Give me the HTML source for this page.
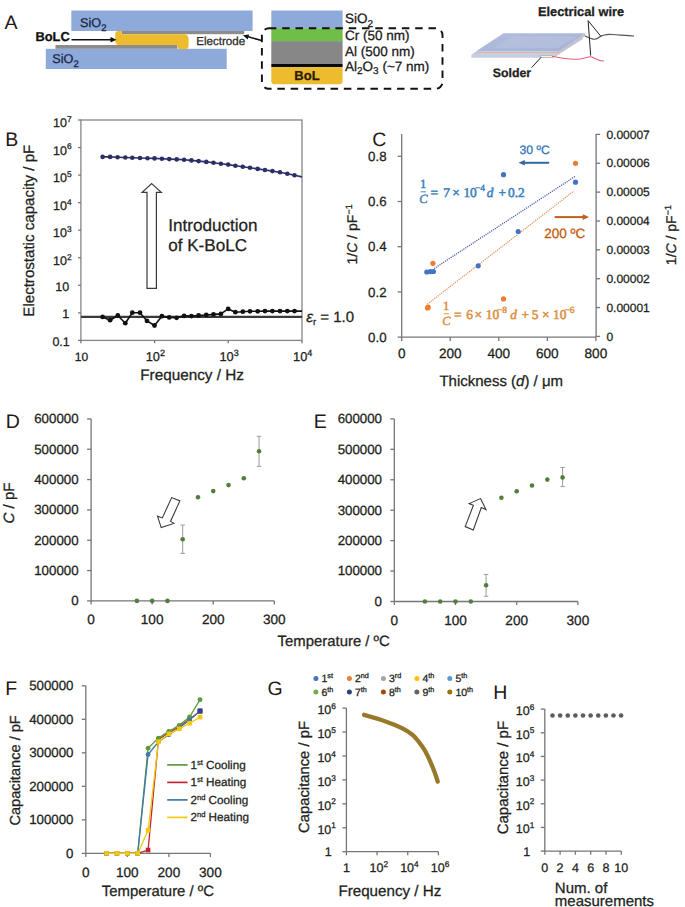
<!DOCTYPE html>
<html><head><meta charset="utf-8"><title>Figure</title>
<style>html,body{margin:0;padding:0;background:#fff;} body{width:685px;height:907px;overflow:hidden;} svg{display:block;} text{stroke-width:0.28px;text-rendering:geometricPrecision;} text.pl{stroke-width:0;}</style>
</head><body>
<svg width="685" height="907" viewBox="0 0 685 907" font-family='"Liberation Sans", sans-serif'>
<rect width="685" height="907" fill="#fff"/>
<text x="4.60" y="28.90" font-size="19.5" text-anchor="start" font-weight="normal" font-style="normal" fill="#231815" font-family='"Liberation Sans", sans-serif' class="pl" stroke="none">A</text>
<rect x="71.30" y="10.50" width="181.30" height="20.50" fill="#8eaadb" />
<rect x="45.80" y="48.80" width="180.90" height="20.20" fill="#8eaadb" />
<rect x="121.90" y="31.00" width="122.30" height="3.20" fill="#8c8c8c" />
<rect x="55.50" y="45.00" width="121.90" height="3.80" fill="#8c8c8c" />
<path d="M118.5,31 L121.8,31 L121.8,34.2 L184,34.2 Q188.6,34.2 188.6,39 L188.6,45.5 Q188.6,49.3 184.6,49.3 L180.5,49.3 Q177.6,49.3 177.6,46.5 L177.6,45 L118.8,45 Q115.2,45 115.2,41.3 L115.2,34.6 Q115.2,31 118.5,31 Z" fill="#ecbc2e"/>
<text stroke="#1c2744" x="80.00" y="27.00" font-size="12.7" text-anchor="start" fill="#1c2744" font-family='"Liberation Sans", sans-serif'>SiO<tspan font-size="9.50" dy="3.60">2</tspan></text>
<text stroke="#1c2744" x="52.30" y="63.00" font-size="12.7" text-anchor="start" fill="#1c2744" font-family='"Liberation Sans", sans-serif'>SiO<tspan font-size="9.50" dy="3.60">2</tspan></text>
<text stroke="#111" x="35.40" y="41.40" font-size="12.9" text-anchor="start" font-weight="bold" font-style="normal" fill="#111" font-family='"Liberation Sans", sans-serif' >BoLC</text>
<line x1="71.50" y1="39.70" x2="112.00" y2="39.70" stroke="#111" stroke-width="1.6" />
<polygon points="116.50,39.70 110.50,37.00 110.50,42.40" fill="#111" stroke="none" stroke-width="1" />
<text stroke="#2a2a2a" x="196.20" y="45.40" font-size="11.6" text-anchor="start" font-weight="normal" font-style="normal" fill="#2a2a2a" font-family='"Liberation Sans", sans-serif' >Electrode</text>
<line x1="261.50" y1="40.60" x2="246.50" y2="36.30" stroke="#111" stroke-width="1.6" />
<polygon points="243.00,35.30 249.20,34.60 247.60,39.60" fill="#111" stroke="none" stroke-width="1" />
<rect x="271.30" y="10.50" width="71.30" height="17.80" fill="#8eaadb" />
<rect x="271.30" y="28.30" width="71.30" height="12.80" fill="#6fbe47" />
<rect x="271.30" y="41.10" width="71.30" height="22.90" fill="#878787" />
<rect x="271.30" y="64.00" width="71.30" height="3.20" fill="#0a0a0a" />
<path d="M271.3,67.2 L342.6,67.2 L342.6,81 Q342.6,84.2 339.4,84.2 L274.5,84.2 Q271.3,84.2 271.3,81 Z" fill="#ecbc2e"/>
<text stroke="#2a1d05" x="307.00" y="80.40" font-size="13" text-anchor="middle" font-weight="bold" font-style="normal" fill="#2a1d05" font-family='"Liberation Sans", sans-serif' >BoL</text>
<rect x="261.9" y="28.2" width="180.6" height="60.6" rx="7" ry="7" fill="none" stroke="#111" stroke-width="1.9" stroke-dasharray="7.5 5.8"/>
<text stroke="#1a1a1a" x="345.00" y="23.20" font-size="13.5" text-anchor="start" fill="#1a1a1a" font-family='"Liberation Sans", sans-serif'>SiO<tspan font-size="10.00" dy="3.80">2</tspan></text>
<text stroke="#1a1a1a" x="345.00" y="40.30" font-size="13.5" text-anchor="start" font-weight="normal" font-style="normal" fill="#1a1a1a" font-family='"Liberation Sans", sans-serif' >Cr (50 nm)</text>
<text stroke="#1a1a1a" x="345.00" y="55.80" font-size="13.5" text-anchor="start" font-weight="normal" font-style="normal" fill="#1a1a1a" font-family='"Liberation Sans", sans-serif' >Al (500 nm)</text>
<text stroke="#1a1a1a" x="345" y="70.6" font-size="13.5" fill="#1a1a1a" font-family='"Liberation Sans", sans-serif'>Al<tspan font-size="10" dy="3.5">2</tspan><tspan dy="-3.5">O</tspan><tspan font-size="10" dy="3.5">3</tspan><tspan dy="-3.5"> (~7 nm)</tspan></text>
<defs><linearGradient id="gpl" x1="0" y1="0" x2="1" y2="1"><stop offset="0" stop-color="#b2bedc"/><stop offset="1" stop-color="#a3b1d6"/></linearGradient></defs>
<polygon points="500.50,36.30 582.50,36.30 553.50,54.80 471.40,54.80" fill="#b7c1dc" stroke="none" stroke-width="1" />
<polygon points="471.40,54.80 553.50,54.80 553.50,57.70 471.40,57.70" fill="#c6cddf" stroke="none" stroke-width="1" />
<polygon points="553.50,54.80 582.50,36.30 582.50,39.20 553.50,57.70" fill="#c4c8d4" stroke="none" stroke-width="1" />
<polygon points="503.50,33.20 585.50,33.20 558.00,51.30 476.10,51.30" fill="url(#gpl)" stroke="none" stroke-width="1" />
<polygon points="512.00,36.50 576.00,36.50 558.00,48.30 494.00,48.30" fill="#b9c4e0" stroke="none" stroke-width="1" opacity="0.55"/>
<polygon points="476.10,51.30 558.00,51.30 558.00,53.80 476.10,53.80" fill="#d3d5df" stroke="none" stroke-width="1" />
<polygon points="558.00,51.30 585.50,33.20 585.50,35.70 558.00,53.80" fill="#bfc2cc" stroke="none" stroke-width="1" />
<line x1="476.10" y1="52.60" x2="558.00" y2="52.60" stroke="#dcae98" stroke-width="0.9" />
<polygon points="540.00,55.50 552.00,55.50 553.00,57.50 541.00,57.50" fill="#f0f0f0" stroke="#999" stroke-width="0.5" />
<path d="M585,36 C590,38 594,41 598,38 C602,35 606,34 612,34.5 C620,35 628,36 634,36" fill="none" stroke="#555" stroke-width="1.2"/>
<path d="M552,56.2 C560,58 570,60 580,59 C586,58.5 589,55.5 592,57 C596,59 598,61 604,61" fill="none" stroke="#e06479" stroke-width="1.1"/>
<line x1="588.10" y1="20.60" x2="590.70" y2="55.60" stroke="#222" stroke-width="1.0" />
<line x1="588.10" y1="20.60" x2="600.70" y2="36.10" stroke="#222" stroke-width="1.0" />
<line x1="541.20" y1="57.20" x2="531.60" y2="67.60" stroke="#222" stroke-width="1.0" />
<text stroke="#222" x="538.00" y="16.10" font-size="12.8" text-anchor="start" font-weight="bold" font-style="normal" fill="#222" font-family='"Liberation Sans", sans-serif' >Electrical wire</text>
<text stroke="#222" x="492.80" y="77.00" font-size="12.3" text-anchor="start" font-weight="bold" font-style="normal" fill="#222" font-family='"Liberation Sans", sans-serif' >Solder</text>
<text x="5.20" y="145.70" font-size="19.5" text-anchor="start" font-weight="normal" font-style="normal" fill="#231815" font-family='"Liberation Sans", sans-serif' class="pl" stroke="none">B</text>
<rect x="80.9" y="120.0" width="221.10" height="220.40" fill="none" stroke="#858585" stroke-width="1.3"/>
<line x1="78.10" y1="120.00" x2="80.90" y2="120.00" stroke="#767676" stroke-width="1.3" />
<line x1="78.10" y1="147.55" x2="80.90" y2="147.55" stroke="#767676" stroke-width="1.3" />
<line x1="78.10" y1="175.10" x2="80.90" y2="175.10" stroke="#767676" stroke-width="1.3" />
<line x1="78.10" y1="202.65" x2="80.90" y2="202.65" stroke="#767676" stroke-width="1.3" />
<line x1="78.10" y1="230.20" x2="80.90" y2="230.20" stroke="#767676" stroke-width="1.3" />
<line x1="78.10" y1="257.75" x2="80.90" y2="257.75" stroke="#767676" stroke-width="1.3" />
<line x1="78.10" y1="285.30" x2="80.90" y2="285.30" stroke="#767676" stroke-width="1.3" />
<line x1="78.10" y1="312.85" x2="80.90" y2="312.85" stroke="#767676" stroke-width="1.3" />
<line x1="78.10" y1="340.40" x2="80.90" y2="340.40" stroke="#767676" stroke-width="1.3" />
<text stroke="#231f20" x="53.00" y="127.20" font-size="12.5" text-anchor="start" fill="#231f20" font-family='"Liberation Sans", sans-serif'>10<tspan font-size="8.30" dy="-5.30">7</tspan></text>
<text stroke="#231f20" x="53.00" y="154.75" font-size="12.5" text-anchor="start" fill="#231f20" font-family='"Liberation Sans", sans-serif'>10<tspan font-size="8.30" dy="-5.30">6</tspan></text>
<text stroke="#231f20" x="53.00" y="182.30" font-size="12.5" text-anchor="start" fill="#231f20" font-family='"Liberation Sans", sans-serif'>10<tspan font-size="8.30" dy="-5.30">5</tspan></text>
<text stroke="#231f20" x="53.00" y="209.85" font-size="12.5" text-anchor="start" fill="#231f20" font-family='"Liberation Sans", sans-serif'>10<tspan font-size="8.30" dy="-5.30">4</tspan></text>
<text stroke="#231f20" x="53.00" y="237.40" font-size="12.5" text-anchor="start" fill="#231f20" font-family='"Liberation Sans", sans-serif'>10<tspan font-size="8.30" dy="-5.30">3</tspan></text>
<text stroke="#231f20" x="53.00" y="264.95" font-size="12.5" text-anchor="start" fill="#231f20" font-family='"Liberation Sans", sans-serif'>10<tspan font-size="8.30" dy="-5.30">2</tspan></text>
<text stroke="#231f20" x="69.20" y="290.70" font-size="12.5" text-anchor="end" font-weight="normal" font-style="normal" fill="#231f20" font-family='"Liberation Sans", sans-serif' >10</text>
<text stroke="#231f20" x="69.20" y="318.25" font-size="12.5" text-anchor="end" font-weight="normal" font-style="normal" fill="#231f20" font-family='"Liberation Sans", sans-serif' >1</text>
<text stroke="#231f20" x="69.80" y="345.80" font-size="12.5" text-anchor="end" font-weight="normal" font-style="normal" fill="#231f20" font-family='"Liberation Sans", sans-serif' >0.1</text>
<line x1="80.90" y1="340.40" x2="80.90" y2="343.20" stroke="#767676" stroke-width="1.3" />
<line x1="154.60" y1="340.40" x2="154.60" y2="343.20" stroke="#767676" stroke-width="1.3" />
<line x1="228.30" y1="340.40" x2="228.30" y2="343.20" stroke="#767676" stroke-width="1.3" />
<line x1="302.00" y1="340.40" x2="302.00" y2="343.20" stroke="#767676" stroke-width="1.3" />
<text stroke="#231f20" x="81.40" y="361.30" font-size="12" text-anchor="middle" font-weight="normal" font-style="normal" fill="#231f20" font-family='"Liberation Sans", sans-serif' >10</text>
<text stroke="#231f20" x="145.70" y="361.40" font-size="12.8" text-anchor="start" fill="#231f20" font-family='"Liberation Sans", sans-serif'>10<tspan font-size="9.00" dy="-5.00">2</tspan></text>
<text stroke="#231f20" x="219.40" y="361.40" font-size="12.8" text-anchor="start" fill="#231f20" font-family='"Liberation Sans", sans-serif'>10<tspan font-size="9.00" dy="-5.00">3</tspan></text>
<text stroke="#231f20" x="293.10" y="361.40" font-size="12.8" text-anchor="start" fill="#231f20" font-family='"Liberation Sans", sans-serif'>10<tspan font-size="9.00" dy="-5.00">4</tspan></text>
<text stroke="#231f20" x="140.20" y="380.20" font-size="15.3" text-anchor="start" font-weight="normal" font-style="normal" fill="#231f20" font-family='"Liberation Sans", sans-serif' >Frequency / Hz</text>
<text stroke="#231f20" x="0.00" y="0.00" font-size="15.1" text-anchor="middle" font-weight="normal" font-style="normal" fill="#231f20" font-family='"Liberation Sans", sans-serif' transform="translate(34.0,230.7) rotate(-90)">Electrostatic capacity / pF</text>
<line x1="80.90" y1="316.80" x2="302.00" y2="316.80" stroke="#3a3a3a" stroke-width="2.2" />
<polyline points="102.60,156.90 110.10,156.90 117.60,157.20 125.30,157.50 132.30,157.70 140.00,158.00 147.50,158.20 154.50,158.40 161.90,158.70 169.20,159.10 176.70,159.40 184.10,159.80 191.40,160.40 198.60,161.10 206.30,161.90 213.50,162.80 220.90,163.70 228.20,164.60 235.40,165.70 242.80,166.70 250.00,167.80 257.70,168.90 265.00,170.00 272.40,171.10 280.00,172.30 287.30,173.80 294.50,175.30 302.00,176.90" fill="none" stroke="#2c2f66" stroke-width="1.6" stroke-linejoin="round" />
<circle cx="102.60" cy="156.90" r="2.3" fill="#2c2f66" />
<circle cx="110.10" cy="156.90" r="2.3" fill="#2c2f66" />
<circle cx="117.60" cy="157.20" r="2.3" fill="#2c2f66" />
<circle cx="125.30" cy="157.50" r="2.3" fill="#2c2f66" />
<circle cx="132.30" cy="157.70" r="2.3" fill="#2c2f66" />
<circle cx="140.00" cy="158.00" r="2.3" fill="#2c2f66" />
<circle cx="147.50" cy="158.20" r="2.3" fill="#2c2f66" />
<circle cx="154.50" cy="158.40" r="2.3" fill="#2c2f66" />
<circle cx="161.90" cy="158.70" r="2.3" fill="#2c2f66" />
<circle cx="169.20" cy="159.10" r="2.3" fill="#2c2f66" />
<circle cx="176.70" cy="159.40" r="2.3" fill="#2c2f66" />
<circle cx="184.10" cy="159.80" r="2.3" fill="#2c2f66" />
<circle cx="191.40" cy="160.40" r="2.3" fill="#2c2f66" />
<circle cx="198.60" cy="161.10" r="2.3" fill="#2c2f66" />
<circle cx="206.30" cy="161.90" r="2.3" fill="#2c2f66" />
<circle cx="213.50" cy="162.80" r="2.3" fill="#2c2f66" />
<circle cx="220.90" cy="163.70" r="2.3" fill="#2c2f66" />
<circle cx="228.20" cy="164.60" r="2.3" fill="#2c2f66" />
<circle cx="235.40" cy="165.70" r="2.3" fill="#2c2f66" />
<circle cx="242.80" cy="166.70" r="2.3" fill="#2c2f66" />
<circle cx="250.00" cy="167.80" r="2.3" fill="#2c2f66" />
<circle cx="257.70" cy="168.90" r="2.3" fill="#2c2f66" />
<circle cx="265.00" cy="170.00" r="2.3" fill="#2c2f66" />
<circle cx="272.40" cy="171.10" r="2.3" fill="#2c2f66" />
<circle cx="280.00" cy="172.30" r="2.3" fill="#2c2f66" />
<circle cx="287.30" cy="173.80" r="2.3" fill="#2c2f66" />
<circle cx="294.50" cy="175.30" r="2.3" fill="#2c2f66" />
<polyline points="102.60,316.90 110.10,320.20 117.80,315.50 125.30,323.20 132.30,312.70 140.00,312.70 147.00,320.90 154.50,325.50 161.90,316.20 169.20,317.40 176.60,317.80 184.10,315.90 191.40,316.10 198.60,315.50 206.30,315.00 213.50,314.40 220.90,313.90 228.20,308.90 235.40,312.20 242.80,311.70 250.00,311.30 257.70,311.30 265.00,311.10 272.40,311.10 280.00,311.10 287.30,311.10 294.50,311.10 302.00,311.10" fill="none" stroke="#111" stroke-width="1.6" stroke-linejoin="round" />
<circle cx="102.60" cy="316.90" r="2.4" fill="#111" />
<circle cx="110.10" cy="320.20" r="2.4" fill="#111" />
<circle cx="117.80" cy="315.50" r="2.4" fill="#111" />
<circle cx="125.30" cy="323.20" r="2.4" fill="#111" />
<circle cx="132.30" cy="312.70" r="2.4" fill="#111" />
<circle cx="140.00" cy="312.70" r="2.4" fill="#111" />
<circle cx="147.00" cy="320.90" r="2.4" fill="#111" />
<circle cx="154.50" cy="325.50" r="2.4" fill="#111" />
<circle cx="161.90" cy="316.20" r="2.4" fill="#111" />
<circle cx="169.20" cy="317.40" r="2.4" fill="#111" />
<circle cx="176.60" cy="317.80" r="2.4" fill="#111" />
<circle cx="184.10" cy="315.90" r="2.4" fill="#111" />
<circle cx="191.40" cy="316.10" r="2.4" fill="#111" />
<circle cx="198.60" cy="315.50" r="2.4" fill="#111" />
<circle cx="206.30" cy="315.00" r="2.4" fill="#111" />
<circle cx="213.50" cy="314.40" r="2.4" fill="#111" />
<circle cx="220.90" cy="313.90" r="2.4" fill="#111" />
<circle cx="228.20" cy="308.90" r="2.4" fill="#111" />
<circle cx="235.40" cy="312.20" r="2.4" fill="#111" />
<circle cx="242.80" cy="311.70" r="2.4" fill="#111" />
<circle cx="250.00" cy="311.30" r="2.4" fill="#111" />
<circle cx="257.70" cy="311.30" r="2.4" fill="#111" />
<circle cx="265.00" cy="311.10" r="2.4" fill="#111" />
<circle cx="272.40" cy="311.10" r="2.4" fill="#111" />
<circle cx="280.00" cy="311.10" r="2.4" fill="#111" />
<circle cx="287.30" cy="311.10" r="2.4" fill="#111" />
<circle cx="294.50" cy="311.10" r="2.4" fill="#111" />
<polygon points="151.70,183.60 161.30,192.30 156.40,192.30 156.40,288.30 147.00,288.30 147.00,192.30 142.10,192.30" fill="#fff" stroke="#3a3a3a" stroke-width="1.2" />
<text stroke="#231f20" x="168.20" y="231.00" font-size="17.1" text-anchor="start" font-weight="normal" font-style="normal" fill="#231f20" font-family='"Liberation Sans", sans-serif' >Introduction</text>
<text stroke="#231f20" x="168.20" y="251.40" font-size="17.1" text-anchor="start" font-weight="normal" font-style="normal" fill="#231f20" font-family='"Liberation Sans", sans-serif' >of K-BoLC</text>
<text stroke="#231f20" x="306.2" y="321.8" font-size="15" fill="#231f20" font-family='"Liberation Sans", sans-serif'><tspan font-style="italic" font-size="15.5">ε</tspan><tspan font-size="9.5" dy="3.5">r</tspan><tspan dy="-3.5"> = 1.0</tspan></text>
<text x="372.20" y="145.60" font-size="19.5" text-anchor="start" font-weight="normal" font-style="normal" fill="#231815" font-family='"Liberation Sans", sans-serif' class="pl" stroke="none">C</text>
<line x1="401.70" y1="134.00" x2="401.70" y2="337.10" stroke="#767676" stroke-width="1.3" />
<line x1="596.10" y1="134.00" x2="596.10" y2="337.10" stroke="#767676" stroke-width="1.3" />
<line x1="401.70" y1="337.10" x2="596.10" y2="337.10" stroke="#767676" stroke-width="1.3" />
<line x1="397.70" y1="337.10" x2="401.70" y2="337.10" stroke="#767676" stroke-width="1.3" />
<text stroke="#231f20" x="386.60" y="341.80" font-size="13.3" text-anchor="end" font-weight="normal" font-style="normal" fill="#231f20" font-family='"Liberation Sans", sans-serif' >0.0</text>
<line x1="397.70" y1="291.90" x2="401.70" y2="291.90" stroke="#767676" stroke-width="1.3" />
<text stroke="#231f20" x="386.60" y="296.60" font-size="13.3" text-anchor="end" font-weight="normal" font-style="normal" fill="#231f20" font-family='"Liberation Sans", sans-serif' >0.2</text>
<line x1="397.70" y1="246.70" x2="401.70" y2="246.70" stroke="#767676" stroke-width="1.3" />
<text stroke="#231f20" x="386.60" y="251.40" font-size="13.3" text-anchor="end" font-weight="normal" font-style="normal" fill="#231f20" font-family='"Liberation Sans", sans-serif' >0.4</text>
<line x1="397.70" y1="201.50" x2="401.70" y2="201.50" stroke="#767676" stroke-width="1.3" />
<text stroke="#231f20" x="386.60" y="206.20" font-size="13.3" text-anchor="end" font-weight="normal" font-style="normal" fill="#231f20" font-family='"Liberation Sans", sans-serif' >0.6</text>
<line x1="397.70" y1="156.30" x2="401.70" y2="156.30" stroke="#767676" stroke-width="1.3" />
<text stroke="#231f20" x="386.60" y="161.00" font-size="13.3" text-anchor="end" font-weight="normal" font-style="normal" fill="#231f20" font-family='"Liberation Sans", sans-serif' >0.8</text>
<line x1="596.10" y1="336.40" x2="600.10" y2="336.40" stroke="#767676" stroke-width="1.3" />
<text stroke="#231f20" x="606.40" y="340.60" font-size="12" text-anchor="start" font-weight="normal" font-style="normal" fill="#231f20" font-family='"Liberation Sans", sans-serif' >0</text>
<line x1="596.10" y1="307.54" x2="600.10" y2="307.54" stroke="#767676" stroke-width="1.3" />
<text stroke="#231f20" x="606.40" y="311.74" font-size="12" text-anchor="start" font-weight="normal" font-style="normal" fill="#231f20" font-family='"Liberation Sans", sans-serif' >0.00001</text>
<line x1="596.10" y1="278.68" x2="600.10" y2="278.68" stroke="#767676" stroke-width="1.3" />
<text stroke="#231f20" x="606.40" y="282.88" font-size="12" text-anchor="start" font-weight="normal" font-style="normal" fill="#231f20" font-family='"Liberation Sans", sans-serif' >0.00002</text>
<line x1="596.10" y1="249.82" x2="600.10" y2="249.82" stroke="#767676" stroke-width="1.3" />
<text stroke="#231f20" x="606.40" y="254.02" font-size="12" text-anchor="start" font-weight="normal" font-style="normal" fill="#231f20" font-family='"Liberation Sans", sans-serif' >0.00003</text>
<line x1="596.10" y1="220.96" x2="600.10" y2="220.96" stroke="#767676" stroke-width="1.3" />
<text stroke="#231f20" x="606.40" y="225.16" font-size="12" text-anchor="start" font-weight="normal" font-style="normal" fill="#231f20" font-family='"Liberation Sans", sans-serif' >0.00004</text>
<line x1="596.10" y1="192.10" x2="600.10" y2="192.10" stroke="#767676" stroke-width="1.3" />
<text stroke="#231f20" x="606.40" y="196.30" font-size="12" text-anchor="start" font-weight="normal" font-style="normal" fill="#231f20" font-family='"Liberation Sans", sans-serif' >0.00005</text>
<line x1="596.10" y1="163.24" x2="600.10" y2="163.24" stroke="#767676" stroke-width="1.3" />
<text stroke="#231f20" x="606.40" y="167.44" font-size="12" text-anchor="start" font-weight="normal" font-style="normal" fill="#231f20" font-family='"Liberation Sans", sans-serif' >0.00006</text>
<line x1="596.10" y1="134.38" x2="600.10" y2="134.38" stroke="#767676" stroke-width="1.3" />
<text stroke="#231f20" x="606.40" y="138.58" font-size="12" text-anchor="start" font-weight="normal" font-style="normal" fill="#231f20" font-family='"Liberation Sans", sans-serif' >0.00007</text>
<line x1="401.70" y1="337.10" x2="401.70" y2="341.10" stroke="#767676" stroke-width="1.3" />
<text stroke="#231f20" x="401.70" y="357.60" font-size="13.6" text-anchor="middle" font-weight="normal" font-style="normal" fill="#231f20" font-family='"Liberation Sans", sans-serif' >0</text>
<line x1="450.25" y1="337.10" x2="450.25" y2="341.10" stroke="#767676" stroke-width="1.3" />
<text stroke="#231f20" x="450.25" y="357.60" font-size="13.6" text-anchor="middle" font-weight="normal" font-style="normal" fill="#231f20" font-family='"Liberation Sans", sans-serif' >200</text>
<line x1="498.80" y1="337.10" x2="498.80" y2="341.10" stroke="#767676" stroke-width="1.3" />
<text stroke="#231f20" x="498.80" y="357.60" font-size="13.6" text-anchor="middle" font-weight="normal" font-style="normal" fill="#231f20" font-family='"Liberation Sans", sans-serif' >400</text>
<line x1="547.35" y1="337.10" x2="547.35" y2="341.10" stroke="#767676" stroke-width="1.3" />
<text stroke="#231f20" x="547.35" y="357.60" font-size="13.6" text-anchor="middle" font-weight="normal" font-style="normal" fill="#231f20" font-family='"Liberation Sans", sans-serif' >600</text>
<line x1="595.90" y1="337.10" x2="595.90" y2="341.10" stroke="#767676" stroke-width="1.3" />
<text stroke="#231f20" x="595.90" y="357.60" font-size="13.6" text-anchor="middle" font-weight="normal" font-style="normal" fill="#231f20" font-family='"Liberation Sans", sans-serif' >800</text>
<text stroke="#231f20" x="439.4" y="385.6" font-size="15" fill="#231f20" font-family='"Liberation Sans", sans-serif'>Thickness (<tspan font-style="italic">d</tspan>) / μm</text>
<text stroke="#231f20" font-size="14" fill="#231f20" text-anchor="middle" font-family='"Liberation Sans", sans-serif' transform="translate(356.6,234.4) rotate(-90)">1/<tspan font-style="italic">C</tspan> / pF<tspan font-size="9" dy="-5">−1</tspan></text>
<text stroke="#231f20" font-size="14" fill="#231f20" text-anchor="middle" font-family='"Liberation Sans", sans-serif' transform="translate(676.2,235.1) rotate(-90)">1/<tspan font-style="italic">C</tspan> / pF<tspan font-size="9" dy="-5">−1</tspan></text>
<line x1="434.00" y1="268.60" x2="575.50" y2="176.10" stroke="#4f5fb8" stroke-width="1.3" stroke-dasharray="1.2 1.0"/>
<line x1="427.30" y1="304.20" x2="574.10" y2="190.90" stroke="#e49660" stroke-width="1.3" stroke-dasharray="1.2 1.0"/>
<circle cx="426.80" cy="272.00" r="2.6" fill="#4472c4" />
<circle cx="430.30" cy="271.60" r="2.6" fill="#4472c4" />
<circle cx="433.40" cy="271.50" r="2.6" fill="#4472c4" />
<circle cx="478.20" cy="265.80" r="2.6" fill="#4472c4" />
<circle cx="503.50" cy="174.70" r="2.6" fill="#4472c4" />
<circle cx="518.20" cy="231.50" r="2.6" fill="#4472c4" />
<circle cx="575.50" cy="182.20" r="2.6" fill="#4472c4" />
<circle cx="432.90" cy="263.30" r="2.6" fill="#ed7d31" />
<circle cx="427.50" cy="307.90" r="2.6" fill="#ed7d31" />
<circle cx="428.20" cy="307.20" r="2.6" fill="#ed7d31" />
<circle cx="503.50" cy="298.90" r="2.6" fill="#ed7d31" />
<circle cx="575.50" cy="163.30" r="2.6" fill="#ed7d31" />
<line x1="549.20" y1="162.80" x2="523.00" y2="162.80" stroke="#35699f" stroke-width="2.0" />
<polygon points="518.50,162.80 524.80,160.00 524.80,165.60" fill="#35699f" stroke="none" stroke-width="1" />
<text stroke="#2e75b6" x="519.60" y="153.90" font-size="12.2" text-anchor="start" font-weight="normal" font-style="normal" fill="#2e75b6" font-family='"Liberation Sans", sans-serif' >30 ºC</text>
<line x1="554.60" y1="217.10" x2="583.50" y2="217.10" stroke="#c25e1c" stroke-width="2.0" />
<polygon points="589.00,217.10 582.70,214.30 582.70,219.90" fill="#c25e1c" stroke="none" stroke-width="1" />
<text stroke="#c55a11" x="544.30" y="237.70" font-size="13.5" text-anchor="start" font-weight="normal" font-style="normal" fill="#c55a11" font-family='"Liberation Sans", sans-serif' >200 ºC</text>
<text x="423.20" y="187.60" font-size="12.5" text-anchor="middle" font-weight="normal" font-style="normal" fill="#3b82c0" font-family='"Liberation Serif", serif' stroke="#3b82c0" style="stroke-width:0.55px">1</text>
<line x1="420.60" y1="191.80" x2="426.00" y2="191.80" stroke="#3b82c0" stroke-width="0.9" />
<text x="423.40" y="202.60" font-size="12.5" text-anchor="middle" font-weight="normal" font-style="italic" fill="#3b82c0" font-family='"Liberation Serif", serif' stroke="#3b82c0" style="stroke-width:0.45px">C</text>
<text x="430.60" y="196.90" font-size="13.4" text-anchor="start" font-weight="normal" font-style="normal" fill="#3b82c0" font-family='"Liberation Serif", serif' stroke="#3b82c0" style="stroke-width:0.55px">=</text>
<text x="443.30" y="196.90" font-size="13.4" text-anchor="start" font-weight="normal" font-style="normal" fill="#3b82c0" font-family='"Liberation Serif", serif' stroke="#3b82c0" style="stroke-width:0.55px">7</text>
<text x="452.30" y="196.90" font-size="13.4" text-anchor="start" font-weight="normal" font-style="normal" fill="#3b82c0" font-family='"Liberation Serif", serif' stroke="#3b82c0" style="stroke-width:0.55px">×</text>
<text x="463.40" y="196.90" font-size="13.4" text-anchor="start" font-weight="normal" font-style="normal" fill="#3b82c0" font-family='"Liberation Serif", serif' stroke="#3b82c0" style="stroke-width:0.55px">10</text>
<text x="475.00" y="191.30" font-size="9.5" text-anchor="start" font-weight="normal" font-style="normal" fill="#3b82c0" font-family='"Liberation Serif", serif' stroke="#3b82c0" style="stroke-width:0.45px">−4</text>
<text x="486.80" y="196.90" font-size="13.4" text-anchor="start" font-weight="normal" font-style="italic" fill="#3b82c0" font-family='"Liberation Serif", serif' stroke="#3b82c0" style="stroke-width:0.55px">d</text>
<text x="498.60" y="196.90" font-size="13.4" text-anchor="start" font-weight="normal" font-style="normal" fill="#3b82c0" font-family='"Liberation Serif", serif' stroke="#3b82c0" style="stroke-width:0.55px">+</text>
<text x="508.00" y="196.90" font-size="13.4" text-anchor="start" font-weight="normal" font-style="normal" fill="#3b82c0" font-family='"Liberation Serif", serif' stroke="#3b82c0" style="stroke-width:0.55px">0.2</text>
<text x="446.20" y="309.60" font-size="12.5" text-anchor="middle" font-weight="normal" font-style="normal" fill="#dd8f42" font-family='"Liberation Serif", serif' stroke="#dd8f42" style="stroke-width:0.55px">1</text>
<line x1="443.60" y1="313.80" x2="449.00" y2="313.80" stroke="#dd8f42" stroke-width="0.9" />
<text x="446.40" y="324.60" font-size="12.5" text-anchor="middle" font-weight="normal" font-style="italic" fill="#dd8f42" font-family='"Liberation Serif", serif' stroke="#dd8f42" style="stroke-width:0.45px">C</text>
<text x="454.00" y="318.60" font-size="13.4" text-anchor="start" font-weight="normal" font-style="normal" fill="#dd8f42" font-family='"Liberation Serif", serif' stroke="#dd8f42" style="stroke-width:0.55px">=</text>
<text x="466.30" y="318.60" font-size="13.4" text-anchor="start" font-weight="normal" font-style="normal" fill="#dd8f42" font-family='"Liberation Serif", serif' stroke="#dd8f42" style="stroke-width:0.55px">6</text>
<text x="474.40" y="318.60" font-size="13.4" text-anchor="start" font-weight="normal" font-style="normal" fill="#dd8f42" font-family='"Liberation Serif", serif' stroke="#dd8f42" style="stroke-width:0.55px">×</text>
<text x="485.70" y="318.60" font-size="13.4" text-anchor="start" font-weight="normal" font-style="normal" fill="#dd8f42" font-family='"Liberation Serif", serif' stroke="#dd8f42" style="stroke-width:0.55px">10</text>
<text x="497.00" y="313.00" font-size="9.5" text-anchor="start" font-weight="normal" font-style="normal" fill="#dd8f42" font-family='"Liberation Serif", serif' stroke="#dd8f42" style="stroke-width:0.45px">−8</text>
<text x="510.20" y="318.60" font-size="13.4" text-anchor="start" font-weight="normal" font-style="italic" fill="#dd8f42" font-family='"Liberation Serif", serif' stroke="#dd8f42" style="stroke-width:0.55px">d</text>
<text x="521.40" y="318.60" font-size="13.4" text-anchor="start" font-weight="normal" font-style="normal" fill="#dd8f42" font-family='"Liberation Serif", serif' stroke="#dd8f42" style="stroke-width:0.55px">+</text>
<text x="531.80" y="318.60" font-size="13.4" text-anchor="start" font-weight="normal" font-style="normal" fill="#dd8f42" font-family='"Liberation Serif", serif' stroke="#dd8f42" style="stroke-width:0.55px">5</text>
<text x="541.90" y="318.60" font-size="13.4" text-anchor="start" font-weight="normal" font-style="normal" fill="#dd8f42" font-family='"Liberation Serif", serif' stroke="#dd8f42" style="stroke-width:0.55px">×</text>
<text x="553.10" y="318.60" font-size="13.4" text-anchor="start" font-weight="normal" font-style="normal" fill="#dd8f42" font-family='"Liberation Serif", serif' stroke="#dd8f42" style="stroke-width:0.55px">10</text>
<text x="564.50" y="313.00" font-size="9.5" text-anchor="start" font-weight="normal" font-style="normal" fill="#dd8f42" font-family='"Liberation Serif", serif' stroke="#dd8f42" style="stroke-width:0.45px">−6</text>
<text x="5.80" y="428.00" font-size="19.5" text-anchor="start" font-weight="normal" font-style="normal" fill="#231815" font-family='"Liberation Sans", sans-serif' class="pl" stroke="none">D</text>
<line x1="91.10" y1="418.90" x2="91.10" y2="600.90" stroke="#767676" stroke-width="1.3" />
<line x1="91.10" y1="600.90" x2="274.30" y2="600.90" stroke="#767676" stroke-width="1.3" />
<line x1="87.10" y1="600.90" x2="91.10" y2="600.90" stroke="#767676" stroke-width="1.3" />
<text stroke="#231f20" x="78.60" y="605.30" font-size="13.3" text-anchor="end" font-weight="normal" font-style="normal" fill="#231f20" font-family='"Liberation Sans", sans-serif' >0</text>
<line x1="87.10" y1="570.57" x2="91.10" y2="570.57" stroke="#767676" stroke-width="1.3" />
<text stroke="#231f20" x="78.60" y="574.97" font-size="13.3" text-anchor="end" font-weight="normal" font-style="normal" fill="#231f20" font-family='"Liberation Sans", sans-serif' >100000</text>
<line x1="87.10" y1="540.23" x2="91.10" y2="540.23" stroke="#767676" stroke-width="1.3" />
<text stroke="#231f20" x="78.60" y="544.63" font-size="13.3" text-anchor="end" font-weight="normal" font-style="normal" fill="#231f20" font-family='"Liberation Sans", sans-serif' >200000</text>
<line x1="87.10" y1="509.90" x2="91.10" y2="509.90" stroke="#767676" stroke-width="1.3" />
<text stroke="#231f20" x="78.60" y="514.30" font-size="13.3" text-anchor="end" font-weight="normal" font-style="normal" fill="#231f20" font-family='"Liberation Sans", sans-serif' >300000</text>
<line x1="87.10" y1="479.57" x2="91.10" y2="479.57" stroke="#767676" stroke-width="1.3" />
<text stroke="#231f20" x="78.60" y="483.97" font-size="13.3" text-anchor="end" font-weight="normal" font-style="normal" fill="#231f20" font-family='"Liberation Sans", sans-serif' >400000</text>
<line x1="87.10" y1="449.23" x2="91.10" y2="449.23" stroke="#767676" stroke-width="1.3" />
<text stroke="#231f20" x="78.60" y="453.63" font-size="13.3" text-anchor="end" font-weight="normal" font-style="normal" fill="#231f20" font-family='"Liberation Sans", sans-serif' >500000</text>
<line x1="87.10" y1="418.90" x2="91.10" y2="418.90" stroke="#767676" stroke-width="1.3" />
<text stroke="#231f20" x="78.60" y="423.30" font-size="13.3" text-anchor="end" font-weight="normal" font-style="normal" fill="#231f20" font-family='"Liberation Sans", sans-serif' >600000</text>
<line x1="91.10" y1="600.90" x2="91.10" y2="604.50" stroke="#767676" stroke-width="1.3" />
<text stroke="#231f20" x="91.10" y="624.10" font-size="13.6" text-anchor="middle" font-weight="normal" font-style="normal" fill="#231f20" font-family='"Liberation Sans", sans-serif' >0</text>
<line x1="152.17" y1="600.90" x2="152.17" y2="604.50" stroke="#767676" stroke-width="1.3" />
<text stroke="#231f20" x="152.17" y="624.10" font-size="13.6" text-anchor="middle" font-weight="normal" font-style="normal" fill="#231f20" font-family='"Liberation Sans", sans-serif' >100</text>
<line x1="213.24" y1="600.90" x2="213.24" y2="604.50" stroke="#767676" stroke-width="1.3" />
<text stroke="#231f20" x="213.24" y="624.10" font-size="13.6" text-anchor="middle" font-weight="normal" font-style="normal" fill="#231f20" font-family='"Liberation Sans", sans-serif' >200</text>
<line x1="274.31" y1="600.90" x2="274.31" y2="604.50" stroke="#767676" stroke-width="1.3" />
<text stroke="#231f20" x="274.31" y="624.10" font-size="13.6" text-anchor="middle" font-weight="normal" font-style="normal" fill="#231f20" font-family='"Liberation Sans", sans-serif' >300</text>
<line x1="182.70" y1="525.00" x2="182.70" y2="553.40" stroke="#9a9a9a" stroke-width="1.0" />
<line x1="180.50" y1="525.00" x2="184.90" y2="525.00" stroke="#9a9a9a" stroke-width="1.0" />
<line x1="180.50" y1="553.40" x2="184.90" y2="553.40" stroke="#9a9a9a" stroke-width="1.0" />
<line x1="259.04" y1="436.30" x2="259.04" y2="466.30" stroke="#9a9a9a" stroke-width="1.0" />
<line x1="256.84" y1="436.30" x2="261.24" y2="436.30" stroke="#9a9a9a" stroke-width="1.0" />
<line x1="256.84" y1="466.30" x2="261.24" y2="466.30" stroke="#9a9a9a" stroke-width="1.0" />
<circle cx="136.90" cy="600.90" r="2.3" fill="#527d3d" />
<circle cx="152.17" cy="600.90" r="2.3" fill="#527d3d" />
<circle cx="167.44" cy="600.90" r="2.3" fill="#527d3d" />
<circle cx="182.70" cy="539.20" r="2.3" fill="#527d3d" />
<circle cx="197.97" cy="497.30" r="2.3" fill="#527d3d" />
<circle cx="213.24" cy="491.10" r="2.3" fill="#527d3d" />
<circle cx="228.51" cy="485.10" r="2.3" fill="#527d3d" />
<circle cx="243.78" cy="478.30" r="2.3" fill="#527d3d" />
<circle cx="259.04" cy="451.20" r="2.3" fill="#527d3d" />
<text stroke="#231f20" font-size="15" fill="#231f20" text-anchor="middle" font-family='"Liberation Sans", sans-serif' transform="translate(14.4,503) rotate(-90)"><tspan font-style="italic">C</tspan> / pF</text>
<polygon points="161.20,527.60 157.50,516.20 162.30,517.90 171.70,497.60 179.90,500.90 170.50,521.40 173.90,523.40" fill="#fff" stroke="#3a3a3a" stroke-width="1.1" />
<text x="313.80" y="428.10" font-size="19.5" text-anchor="start" font-weight="normal" font-style="normal" fill="#231815" font-family='"Liberation Sans", sans-serif' class="pl" stroke="none">E</text>
<line x1="394.30" y1="418.90" x2="394.30" y2="601.50" stroke="#767676" stroke-width="1.3" />
<line x1="394.30" y1="601.50" x2="577.90" y2="601.50" stroke="#767676" stroke-width="1.3" />
<line x1="390.30" y1="601.50" x2="394.30" y2="601.50" stroke="#767676" stroke-width="1.3" />
<text stroke="#231f20" x="382.00" y="605.90" font-size="13.3" text-anchor="end" font-weight="normal" font-style="normal" fill="#231f20" font-family='"Liberation Sans", sans-serif' >0</text>
<line x1="390.30" y1="571.07" x2="394.30" y2="571.07" stroke="#767676" stroke-width="1.3" />
<text stroke="#231f20" x="382.00" y="575.47" font-size="13.3" text-anchor="end" font-weight="normal" font-style="normal" fill="#231f20" font-family='"Liberation Sans", sans-serif' >100000</text>
<line x1="390.30" y1="540.63" x2="394.30" y2="540.63" stroke="#767676" stroke-width="1.3" />
<text stroke="#231f20" x="382.00" y="545.03" font-size="13.3" text-anchor="end" font-weight="normal" font-style="normal" fill="#231f20" font-family='"Liberation Sans", sans-serif' >200000</text>
<line x1="390.30" y1="510.20" x2="394.30" y2="510.20" stroke="#767676" stroke-width="1.3" />
<text stroke="#231f20" x="382.00" y="514.60" font-size="13.3" text-anchor="end" font-weight="normal" font-style="normal" fill="#231f20" font-family='"Liberation Sans", sans-serif' >300000</text>
<line x1="390.30" y1="479.77" x2="394.30" y2="479.77" stroke="#767676" stroke-width="1.3" />
<text stroke="#231f20" x="382.00" y="484.17" font-size="13.3" text-anchor="end" font-weight="normal" font-style="normal" fill="#231f20" font-family='"Liberation Sans", sans-serif' >400000</text>
<line x1="390.30" y1="449.33" x2="394.30" y2="449.33" stroke="#767676" stroke-width="1.3" />
<text stroke="#231f20" x="382.00" y="453.73" font-size="13.3" text-anchor="end" font-weight="normal" font-style="normal" fill="#231f20" font-family='"Liberation Sans", sans-serif' >500000</text>
<line x1="390.30" y1="418.90" x2="394.30" y2="418.90" stroke="#767676" stroke-width="1.3" />
<text stroke="#231f20" x="382.00" y="423.30" font-size="13.3" text-anchor="end" font-weight="normal" font-style="normal" fill="#231f20" font-family='"Liberation Sans", sans-serif' >600000</text>
<line x1="394.30" y1="601.50" x2="394.30" y2="605.10" stroke="#767676" stroke-width="1.3" />
<text stroke="#231f20" x="394.30" y="624.70" font-size="13.6" text-anchor="middle" font-weight="normal" font-style="normal" fill="#231f20" font-family='"Liberation Sans", sans-serif' >0</text>
<line x1="455.50" y1="601.50" x2="455.50" y2="605.10" stroke="#767676" stroke-width="1.3" />
<text stroke="#231f20" x="455.50" y="624.70" font-size="13.6" text-anchor="middle" font-weight="normal" font-style="normal" fill="#231f20" font-family='"Liberation Sans", sans-serif' >100</text>
<line x1="516.70" y1="601.50" x2="516.70" y2="605.10" stroke="#767676" stroke-width="1.3" />
<text stroke="#231f20" x="516.70" y="624.70" font-size="13.6" text-anchor="middle" font-weight="normal" font-style="normal" fill="#231f20" font-family='"Liberation Sans", sans-serif' >200</text>
<line x1="577.90" y1="601.50" x2="577.90" y2="605.10" stroke="#767676" stroke-width="1.3" />
<text stroke="#231f20" x="577.90" y="624.70" font-size="13.6" text-anchor="middle" font-weight="normal" font-style="normal" fill="#231f20" font-family='"Liberation Sans", sans-serif' >300</text>
<line x1="486.10" y1="574.40" x2="486.10" y2="596.30" stroke="#9a9a9a" stroke-width="1.0" />
<line x1="483.90" y1="574.40" x2="488.30" y2="574.40" stroke="#9a9a9a" stroke-width="1.0" />
<line x1="483.90" y1="596.30" x2="488.30" y2="596.30" stroke="#9a9a9a" stroke-width="1.0" />
<line x1="562.60" y1="467.50" x2="562.60" y2="486.60" stroke="#9a9a9a" stroke-width="1.0" />
<line x1="560.40" y1="467.50" x2="564.80" y2="467.50" stroke="#9a9a9a" stroke-width="1.0" />
<line x1="560.40" y1="486.60" x2="564.80" y2="486.60" stroke="#9a9a9a" stroke-width="1.0" />
<circle cx="424.90" cy="601.50" r="2.3" fill="#527d3d" />
<circle cx="440.20" cy="601.50" r="2.3" fill="#527d3d" />
<circle cx="455.50" cy="601.50" r="2.3" fill="#527d3d" />
<circle cx="470.80" cy="601.50" r="2.3" fill="#527d3d" />
<circle cx="486.10" cy="585.30" r="2.3" fill="#527d3d" />
<circle cx="501.40" cy="497.70" r="2.3" fill="#527d3d" />
<circle cx="516.70" cy="491.20" r="2.3" fill="#527d3d" />
<circle cx="532.00" cy="485.50" r="2.3" fill="#527d3d" />
<circle cx="547.30" cy="479.60" r="2.3" fill="#527d3d" />
<circle cx="562.60" cy="477.40" r="2.3" fill="#527d3d" />
<polygon points="480.50,498.60 486.00,509.60 481.30,507.60 473.30,529.90 465.20,526.60 473.40,505.30 469.10,503.60" fill="#fff" stroke="#3a3a3a" stroke-width="1.1" />
<text stroke="#231f20" x="277.60" y="645.60" font-size="14.9" text-anchor="start" font-weight="normal" font-style="normal" fill="#231f20" font-family='"Liberation Sans", sans-serif' >Temperature / ºC</text>
<text x="5.20" y="694.90" font-size="19.5" text-anchor="start" font-weight="normal" font-style="normal" fill="#231815" font-family='"Liberation Sans", sans-serif' class="pl" stroke="none">F</text>
<line x1="85.80" y1="685.80" x2="85.80" y2="853.40" stroke="#767676" stroke-width="1.3" />
<line x1="85.80" y1="853.40" x2="210.40" y2="853.40" stroke="#767676" stroke-width="1.3" />
<line x1="81.80" y1="853.40" x2="85.80" y2="853.40" stroke="#767676" stroke-width="1.3" />
<text stroke="#231f20" x="73.50" y="857.80" font-size="13.3" text-anchor="end" font-weight="normal" font-style="normal" fill="#231f20" font-family='"Liberation Sans", sans-serif' >0</text>
<line x1="81.80" y1="819.88" x2="85.80" y2="819.88" stroke="#767676" stroke-width="1.3" />
<text stroke="#231f20" x="73.50" y="824.28" font-size="13.3" text-anchor="end" font-weight="normal" font-style="normal" fill="#231f20" font-family='"Liberation Sans", sans-serif' >100000</text>
<line x1="81.80" y1="786.36" x2="85.80" y2="786.36" stroke="#767676" stroke-width="1.3" />
<text stroke="#231f20" x="73.50" y="790.76" font-size="13.3" text-anchor="end" font-weight="normal" font-style="normal" fill="#231f20" font-family='"Liberation Sans", sans-serif' >200000</text>
<line x1="81.80" y1="752.84" x2="85.80" y2="752.84" stroke="#767676" stroke-width="1.3" />
<text stroke="#231f20" x="73.50" y="757.24" font-size="13.3" text-anchor="end" font-weight="normal" font-style="normal" fill="#231f20" font-family='"Liberation Sans", sans-serif' >300000</text>
<line x1="81.80" y1="719.32" x2="85.80" y2="719.32" stroke="#767676" stroke-width="1.3" />
<text stroke="#231f20" x="73.50" y="723.72" font-size="13.3" text-anchor="end" font-weight="normal" font-style="normal" fill="#231f20" font-family='"Liberation Sans", sans-serif' >400000</text>
<line x1="81.80" y1="685.80" x2="85.80" y2="685.80" stroke="#767676" stroke-width="1.3" />
<text stroke="#231f20" x="73.50" y="690.20" font-size="13.3" text-anchor="end" font-weight="normal" font-style="normal" fill="#231f20" font-family='"Liberation Sans", sans-serif' >500000</text>
<line x1="85.80" y1="853.40" x2="85.80" y2="857.00" stroke="#767676" stroke-width="1.3" />
<text stroke="#231f20" x="85.80" y="876.80" font-size="13.6" text-anchor="middle" font-weight="normal" font-style="normal" fill="#231f20" font-family='"Liberation Sans", sans-serif' >0</text>
<line x1="127.33" y1="853.40" x2="127.33" y2="857.00" stroke="#767676" stroke-width="1.3" />
<text stroke="#231f20" x="127.33" y="876.80" font-size="13.6" text-anchor="middle" font-weight="normal" font-style="normal" fill="#231f20" font-family='"Liberation Sans", sans-serif' >100</text>
<line x1="168.87" y1="853.40" x2="168.87" y2="857.00" stroke="#767676" stroke-width="1.3" />
<text stroke="#231f20" x="168.87" y="876.80" font-size="13.6" text-anchor="middle" font-weight="normal" font-style="normal" fill="#231f20" font-family='"Liberation Sans", sans-serif' >200</text>
<line x1="210.40" y1="853.40" x2="210.40" y2="857.00" stroke="#767676" stroke-width="1.3" />
<text stroke="#231f20" x="210.40" y="876.80" font-size="13.6" text-anchor="middle" font-weight="normal" font-style="normal" fill="#231f20" font-family='"Liberation Sans", sans-serif' >300</text>
<polyline points="106.57,853.40 116.95,853.40 127.33,853.40 137.72,853.40 148.10,850.05 158.48,739.43 168.87,732.73 179.25,726.69 189.63,718.98 200.02,711.28" fill="none" stroke="#c0272d" stroke-width="1.3" stroke-linejoin="round" />
<rect x="104.27" y="851.10" width="4.60" height="4.60" fill="#c0272d" />
<rect x="114.65" y="851.10" width="4.60" height="4.60" fill="#c0272d" />
<rect x="125.03" y="851.10" width="4.60" height="4.60" fill="#c0272d" />
<rect x="135.42" y="851.10" width="4.60" height="4.60" fill="#c0272d" />
<rect x="145.80" y="847.75" width="4.60" height="4.60" fill="#c0272d" />
<rect x="156.18" y="737.13" width="4.60" height="4.60" fill="#c0272d" />
<rect x="166.57" y="730.43" width="4.60" height="4.60" fill="#c0272d" />
<rect x="176.95" y="724.39" width="4.60" height="4.60" fill="#c0272d" />
<rect x="187.33" y="716.68" width="4.60" height="4.60" fill="#c0272d" />
<rect x="197.72" y="708.98" width="4.60" height="4.60" fill="#c0272d" />
<polyline points="106.57,853.40 116.95,853.40 127.33,853.40 137.72,853.40 148.10,748.15 158.48,738.09 168.87,731.39 179.25,725.35 189.63,716.97 200.02,699.71" fill="none" stroke="#5a9a3c" stroke-width="1.3" stroke-linejoin="round" />
<circle cx="106.57" cy="853.40" r="2.4" fill="#5a9a3c" />
<circle cx="116.95" cy="853.40" r="2.4" fill="#5a9a3c" />
<circle cx="127.33" cy="853.40" r="2.4" fill="#5a9a3c" />
<circle cx="137.72" cy="853.40" r="2.4" fill="#5a9a3c" />
<circle cx="148.10" cy="748.15" r="2.4" fill="#5a9a3c" />
<circle cx="158.48" cy="738.09" r="2.4" fill="#5a9a3c" />
<circle cx="168.87" cy="731.39" r="2.4" fill="#5a9a3c" />
<circle cx="179.25" cy="725.35" r="2.4" fill="#5a9a3c" />
<circle cx="189.63" cy="716.97" r="2.4" fill="#5a9a3c" />
<circle cx="200.02" cy="699.71" r="2.4" fill="#5a9a3c" />
<polyline points="106.57,853.40 116.95,853.40 127.33,853.40 137.72,853.40 148.10,754.52 158.48,741.78 168.87,734.74 179.25,728.04 189.63,719.99 200.02,710.94" fill="none" stroke="#4279a8" stroke-width="1.3" stroke-linejoin="round" />
<circle cx="106.57" cy="853.40" r="2.4" fill="#4279a8" />
<circle cx="116.95" cy="853.40" r="2.4" fill="#4279a8" />
<circle cx="127.33" cy="853.40" r="2.4" fill="#4279a8" />
<circle cx="137.72" cy="853.40" r="2.4" fill="#4279a8" />
<circle cx="148.10" cy="754.52" r="2.4" fill="#4279a8" />
<circle cx="158.48" cy="741.78" r="2.4" fill="#4279a8" />
<circle cx="168.87" cy="734.74" r="2.4" fill="#4279a8" />
<circle cx="179.25" cy="728.04" r="2.4" fill="#4279a8" />
<circle cx="189.63" cy="719.99" r="2.4" fill="#4279a8" />
<circle cx="200.02" cy="710.94" r="2.4" fill="#4279a8" />
<polyline points="106.57,853.40 116.95,853.40 127.33,853.40 137.72,853.40 148.10,830.27 158.48,741.61 168.87,733.90 179.25,728.81 189.63,723.21 200.02,717.11" fill="none" stroke="#f2c811" stroke-width="1.3" stroke-linejoin="round" />
<rect x="104.27" y="851.10" width="4.60" height="4.60" fill="#f2c811" />
<rect x="114.65" y="851.10" width="4.60" height="4.60" fill="#f2c811" />
<rect x="125.03" y="851.10" width="4.60" height="4.60" fill="#f2c811" />
<rect x="135.42" y="851.10" width="4.60" height="4.60" fill="#f2c811" />
<rect x="145.80" y="827.97" width="4.60" height="4.60" fill="#f2c811" />
<rect x="156.18" y="739.31" width="4.60" height="4.60" fill="#f2c811" />
<rect x="166.57" y="731.60" width="4.60" height="4.60" fill="#f2c811" />
<rect x="176.95" y="726.51" width="4.60" height="4.60" fill="#f2c811" />
<rect x="187.33" y="720.91" width="4.60" height="4.60" fill="#f2c811" />
<rect x="197.72" y="714.81" width="4.60" height="4.60" fill="#f2c811" />
<rect x="197.52" y="708.44" width="5.00" height="5.00" fill="#2e3f8f" />
<line x1="167.20" y1="764.90" x2="187.60" y2="764.90" stroke="#5a9a3c" stroke-width="1.7" />
<text stroke="#231f20" x="190.4" y="768.80" font-size="11.7" fill="#231f20" font-family='"Liberation Sans", sans-serif'>1<tspan font-size="7.6" dy="-4.1">st</tspan><tspan dy="4.1"> Cooling</tspan></text>
<line x1="167.20" y1="782.40" x2="187.60" y2="782.40" stroke="#c0272d" stroke-width="1.7" />
<text stroke="#231f20" x="190.4" y="786.30" font-size="11.7" fill="#231f20" font-family='"Liberation Sans", sans-serif'>1<tspan font-size="7.6" dy="-4.1">st</tspan><tspan dy="4.1"> Heating</tspan></text>
<line x1="167.20" y1="799.90" x2="187.60" y2="799.90" stroke="#4279a8" stroke-width="1.7" />
<text stroke="#231f20" x="190.4" y="803.80" font-size="11.7" fill="#231f20" font-family='"Liberation Sans", sans-serif'>2<tspan font-size="7.6" dy="-4.1">nd</tspan><tspan dy="4.1"> Cooling</tspan></text>
<line x1="167.20" y1="817.40" x2="187.60" y2="817.40" stroke="#f2c811" stroke-width="1.7" />
<text stroke="#231f20" x="190.4" y="821.30" font-size="11.7" fill="#231f20" font-family='"Liberation Sans", sans-serif'>2<tspan font-size="7.6" dy="-4.1">nd</tspan><tspan dy="4.1"> Heating</tspan></text>
<text stroke="#231f20" x="0.00" y="0.00" font-size="14.6" text-anchor="middle" font-weight="normal" font-style="normal" fill="#231f20" font-family='"Liberation Sans", sans-serif' transform="translate(20.3,770.4) rotate(-90)">Capacitance / pF</text>
<text stroke="#231f20" x="101.80" y="896.20" font-size="14.9" text-anchor="start" font-weight="normal" font-style="normal" fill="#231f20" font-family='"Liberation Sans", sans-serif' >Temperature / ºC</text>
<text x="267.60" y="695.20" font-size="19.5" text-anchor="start" font-weight="normal" font-style="normal" fill="#231815" font-family='"Liberation Sans", sans-serif' class="pl" stroke="none">G</text>
<line x1="346.40" y1="708.10" x2="346.40" y2="851.70" stroke="#767676" stroke-width="1.3" />
<line x1="346.40" y1="851.70" x2="438.40" y2="851.70" stroke="#767676" stroke-width="1.3" />
<line x1="342.40" y1="851.70" x2="346.40" y2="851.70" stroke="#767676" stroke-width="1.3" />
<text stroke="#231f20" x="331.80" y="856.10" font-size="12.5" text-anchor="end" font-weight="normal" font-style="normal" fill="#231f20" font-family='"Liberation Sans", sans-serif' >1</text>
<line x1="342.40" y1="827.77" x2="346.40" y2="827.77" stroke="#767676" stroke-width="1.3" />
<text stroke="#231f20" x="317.40" y="833.57" font-size="12.5" text-anchor="start" fill="#231f20" font-family='"Liberation Sans", sans-serif'>10<tspan font-size="8.30" dy="-5.20">1</tspan></text>
<line x1="342.40" y1="803.83" x2="346.40" y2="803.83" stroke="#767676" stroke-width="1.3" />
<text stroke="#231f20" x="317.40" y="809.63" font-size="12.5" text-anchor="start" fill="#231f20" font-family='"Liberation Sans", sans-serif'>10<tspan font-size="8.30" dy="-5.20">2</tspan></text>
<line x1="342.40" y1="779.90" x2="346.40" y2="779.90" stroke="#767676" stroke-width="1.3" />
<text stroke="#231f20" x="317.40" y="785.70" font-size="12.5" text-anchor="start" fill="#231f20" font-family='"Liberation Sans", sans-serif'>10<tspan font-size="8.30" dy="-5.20">3</tspan></text>
<line x1="342.40" y1="755.97" x2="346.40" y2="755.97" stroke="#767676" stroke-width="1.3" />
<text stroke="#231f20" x="317.40" y="761.77" font-size="12.5" text-anchor="start" fill="#231f20" font-family='"Liberation Sans", sans-serif'>10<tspan font-size="8.30" dy="-5.20">4</tspan></text>
<line x1="342.40" y1="732.03" x2="346.40" y2="732.03" stroke="#767676" stroke-width="1.3" />
<text stroke="#231f20" x="317.40" y="737.83" font-size="12.5" text-anchor="start" fill="#231f20" font-family='"Liberation Sans", sans-serif'>10<tspan font-size="8.30" dy="-5.20">5</tspan></text>
<line x1="342.40" y1="708.10" x2="346.40" y2="708.10" stroke="#767676" stroke-width="1.3" />
<text stroke="#231f20" x="317.40" y="713.90" font-size="12.5" text-anchor="start" fill="#231f20" font-family='"Liberation Sans", sans-serif'>10<tspan font-size="8.30" dy="-5.20">6</tspan></text>
<line x1="346.40" y1="851.70" x2="346.40" y2="855.30" stroke="#767676" stroke-width="1.3" />
<text stroke="#231f20" x="346.40" y="872.00" font-size="12.5" text-anchor="middle" font-weight="normal" font-style="normal" fill="#231f20" font-family='"Liberation Sans", sans-serif' >1</text>
<line x1="377.07" y1="851.70" x2="377.07" y2="855.30" stroke="#767676" stroke-width="1.3" />
<text stroke="#231f20" x="369.47" y="872.00" font-size="12.5" text-anchor="start" fill="#231f20" font-family='"Liberation Sans", sans-serif'>10<tspan font-size="8.30" dy="-5.20">2</tspan></text>
<line x1="407.73" y1="851.70" x2="407.73" y2="855.30" stroke="#767676" stroke-width="1.3" />
<text stroke="#231f20" x="400.13" y="872.00" font-size="12.5" text-anchor="start" fill="#231f20" font-family='"Liberation Sans", sans-serif'>10<tspan font-size="8.30" dy="-5.20">4</tspan></text>
<line x1="438.40" y1="851.70" x2="438.40" y2="855.30" stroke="#767676" stroke-width="1.3" />
<text stroke="#231f20" x="430.80" y="872.00" font-size="12.5" text-anchor="start" fill="#231f20" font-family='"Liberation Sans", sans-serif'>10<tspan font-size="8.30" dy="-5.20">6</tspan></text>
<path d="M364.1,714.8 C372,716.8 385,720.8 395,724.9 C403,728.2 410,731.5 414.9,737.2 C420,743 424.5,749 427.7,755.9 C431,763 435,772 437.7,781.6" fill="none" stroke="#98792a" stroke-width="4.3" stroke-linecap="round"/>
<text stroke="#231f20" x="0.00" y="0.00" font-size="14.8" text-anchor="middle" font-weight="normal" font-style="normal" fill="#231f20" font-family='"Liberation Sans", sans-serif' transform="translate(308.6,777) rotate(-90)">Capacitance / pF</text>
<text stroke="#231f20" x="338.40" y="896.20" font-size="15.2" text-anchor="start" font-weight="normal" font-style="normal" fill="#231f20" font-family='"Liberation Sans", sans-serif' >Frequency / Hz</text>
<circle cx="315.90" cy="678.50" r="2.5" fill="#4472c4" />
<text stroke="#231f20" x="321.50" y="682.10" font-size="10.5" fill="#231f20" font-family='"Liberation Sans", sans-serif'>1<tspan font-size="7.2" dy="-3.8">st</tspan></text>
<circle cx="349.40" cy="678.50" r="2.5" fill="#ed7d31" />
<text stroke="#231f20" x="355.00" y="682.10" font-size="10.5" fill="#231f20" font-family='"Liberation Sans", sans-serif'>2<tspan font-size="7.2" dy="-3.8">nd</tspan></text>
<circle cx="383.40" cy="678.50" r="2.5" fill="#a5a5a5" />
<text stroke="#231f20" x="389.00" y="682.10" font-size="10.5" fill="#231f20" font-family='"Liberation Sans", sans-serif'>3<tspan font-size="7.2" dy="-3.8">rd</tspan></text>
<circle cx="416.90" cy="678.50" r="2.5" fill="#ffc000" />
<text stroke="#231f20" x="422.50" y="682.10" font-size="10.5" fill="#231f20" font-family='"Liberation Sans", sans-serif'>4<tspan font-size="7.2" dy="-3.8">th</tspan></text>
<circle cx="449.80" cy="678.50" r="2.5" fill="#5b9bd5" />
<text stroke="#231f20" x="455.40" y="682.10" font-size="10.5" fill="#231f20" font-family='"Liberation Sans", sans-serif'>5<tspan font-size="7.2" dy="-3.8">th</tspan></text>
<circle cx="315.90" cy="692.10" r="2.5" fill="#70ad47" />
<text stroke="#231f20" x="321.50" y="695.70" font-size="10.5" fill="#231f20" font-family='"Liberation Sans", sans-serif'>6<tspan font-size="7.2" dy="-3.8">th</tspan></text>
<circle cx="349.40" cy="692.10" r="2.5" fill="#264478" />
<text stroke="#231f20" x="355.00" y="695.70" font-size="10.5" fill="#231f20" font-family='"Liberation Sans", sans-serif'>7<tspan font-size="7.2" dy="-3.8">th</tspan></text>
<circle cx="383.40" cy="692.10" r="2.5" fill="#9e480e" />
<text stroke="#231f20" x="389.00" y="695.70" font-size="10.5" fill="#231f20" font-family='"Liberation Sans", sans-serif'>8<tspan font-size="7.2" dy="-3.8">th</tspan></text>
<circle cx="416.90" cy="692.10" r="2.5" fill="#636363" />
<text stroke="#231f20" x="422.50" y="695.70" font-size="10.5" fill="#231f20" font-family='"Liberation Sans", sans-serif'>9<tspan font-size="7.2" dy="-3.8">th</tspan></text>
<circle cx="449.80" cy="692.10" r="2.5" fill="#997300" />
<text stroke="#231f20" x="455.40" y="695.70" font-size="10.5" fill="#231f20" font-family='"Liberation Sans", sans-serif'>10<tspan font-size="7.2" dy="-3.8">th</tspan></text>
<text x="493.20" y="698.90" font-size="19.5" text-anchor="start" font-weight="normal" font-style="normal" fill="#231815" font-family='"Liberation Sans", sans-serif' class="pl" stroke="none">H</text>
<line x1="544.80" y1="709.10" x2="544.80" y2="851.10" stroke="#767676" stroke-width="1.3" />
<line x1="544.80" y1="851.10" x2="621.30" y2="851.10" stroke="#767676" stroke-width="1.3" />
<line x1="540.80" y1="851.10" x2="544.80" y2="851.10" stroke="#767676" stroke-width="1.3" />
<text stroke="#231f20" x="530.20" y="855.50" font-size="12.5" text-anchor="end" font-weight="normal" font-style="normal" fill="#231f20" font-family='"Liberation Sans", sans-serif' >1</text>
<line x1="540.80" y1="827.43" x2="544.80" y2="827.43" stroke="#767676" stroke-width="1.3" />
<text stroke="#231f20" x="515.80" y="833.23" font-size="12.5" text-anchor="start" fill="#231f20" font-family='"Liberation Sans", sans-serif'>10<tspan font-size="8.30" dy="-5.20">1</tspan></text>
<line x1="540.80" y1="803.77" x2="544.80" y2="803.77" stroke="#767676" stroke-width="1.3" />
<text stroke="#231f20" x="515.80" y="809.57" font-size="12.5" text-anchor="start" fill="#231f20" font-family='"Liberation Sans", sans-serif'>10<tspan font-size="8.30" dy="-5.20">2</tspan></text>
<line x1="540.80" y1="780.10" x2="544.80" y2="780.10" stroke="#767676" stroke-width="1.3" />
<text stroke="#231f20" x="515.80" y="785.90" font-size="12.5" text-anchor="start" fill="#231f20" font-family='"Liberation Sans", sans-serif'>10<tspan font-size="8.30" dy="-5.20">3</tspan></text>
<line x1="540.80" y1="756.43" x2="544.80" y2="756.43" stroke="#767676" stroke-width="1.3" />
<text stroke="#231f20" x="515.80" y="762.23" font-size="12.5" text-anchor="start" fill="#231f20" font-family='"Liberation Sans", sans-serif'>10<tspan font-size="8.30" dy="-5.20">4</tspan></text>
<line x1="540.80" y1="732.77" x2="544.80" y2="732.77" stroke="#767676" stroke-width="1.3" />
<text stroke="#231f20" x="515.80" y="738.57" font-size="12.5" text-anchor="start" fill="#231f20" font-family='"Liberation Sans", sans-serif'>10<tspan font-size="8.30" dy="-5.20">5</tspan></text>
<line x1="540.80" y1="709.10" x2="544.80" y2="709.10" stroke="#767676" stroke-width="1.3" />
<text stroke="#231f20" x="515.80" y="714.90" font-size="12.5" text-anchor="start" fill="#231f20" font-family='"Liberation Sans", sans-serif'>10<tspan font-size="8.30" dy="-5.20">6</tspan></text>
<line x1="544.80" y1="851.10" x2="544.80" y2="854.70" stroke="#767676" stroke-width="1.3" />
<text stroke="#231f20" x="544.80" y="872.30" font-size="12.5" text-anchor="middle" font-weight="normal" font-style="normal" fill="#231f20" font-family='"Liberation Sans", sans-serif' >0</text>
<line x1="560.10" y1="851.10" x2="560.10" y2="854.70" stroke="#767676" stroke-width="1.3" />
<text stroke="#231f20" x="560.10" y="872.30" font-size="12.5" text-anchor="middle" font-weight="normal" font-style="normal" fill="#231f20" font-family='"Liberation Sans", sans-serif' >2</text>
<line x1="575.40" y1="851.10" x2="575.40" y2="854.70" stroke="#767676" stroke-width="1.3" />
<text stroke="#231f20" x="575.40" y="872.30" font-size="12.5" text-anchor="middle" font-weight="normal" font-style="normal" fill="#231f20" font-family='"Liberation Sans", sans-serif' >4</text>
<line x1="590.70" y1="851.10" x2="590.70" y2="854.70" stroke="#767676" stroke-width="1.3" />
<text stroke="#231f20" x="590.70" y="872.30" font-size="12.5" text-anchor="middle" font-weight="normal" font-style="normal" fill="#231f20" font-family='"Liberation Sans", sans-serif' >6</text>
<line x1="606.00" y1="851.10" x2="606.00" y2="854.70" stroke="#767676" stroke-width="1.3" />
<text stroke="#231f20" x="606.00" y="872.30" font-size="12.5" text-anchor="middle" font-weight="normal" font-style="normal" fill="#231f20" font-family='"Liberation Sans", sans-serif' >8</text>
<line x1="621.30" y1="851.10" x2="621.30" y2="854.70" stroke="#767676" stroke-width="1.3" />
<text stroke="#231f20" x="621.30" y="872.30" font-size="12.5" text-anchor="middle" font-weight="normal" font-style="normal" fill="#231f20" font-family='"Liberation Sans", sans-serif' >10</text>
<circle cx="552.50" cy="715.50" r="2.3" fill="#5c5c5c" />
<circle cx="560.12" cy="715.50" r="2.3" fill="#5c5c5c" />
<circle cx="567.74" cy="715.50" r="2.3" fill="#5c5c5c" />
<circle cx="575.37" cy="715.50" r="2.3" fill="#5c5c5c" />
<circle cx="582.99" cy="715.50" r="2.3" fill="#5c5c5c" />
<circle cx="590.61" cy="715.50" r="2.3" fill="#5c5c5c" />
<circle cx="598.23" cy="715.50" r="2.3" fill="#5c5c5c" />
<circle cx="605.86" cy="715.50" r="2.3" fill="#5c5c5c" />
<circle cx="613.48" cy="715.50" r="2.3" fill="#5c5c5c" />
<circle cx="621.10" cy="715.50" r="2.3" fill="#5c5c5c" />
<text stroke="#231f20" x="0.00" y="0.00" font-size="15" text-anchor="middle" font-weight="normal" font-style="normal" fill="#231f20" font-family='"Liberation Sans", sans-serif' transform="translate(507.6,777.6) rotate(-90)">Capacitance / pF</text>
<text stroke="#231f20" x="554.80" y="892.80" font-size="15" text-anchor="start" font-weight="normal" font-style="normal" fill="#231f20" font-family='"Liberation Sans", sans-serif' >Num. of</text>
<text stroke="#231f20" x="554.80" y="905.50" font-size="15" text-anchor="start" font-weight="normal" font-style="normal" fill="#231f20" font-family='"Liberation Sans", sans-serif' >measurements</text>
</svg>
</body></html>
